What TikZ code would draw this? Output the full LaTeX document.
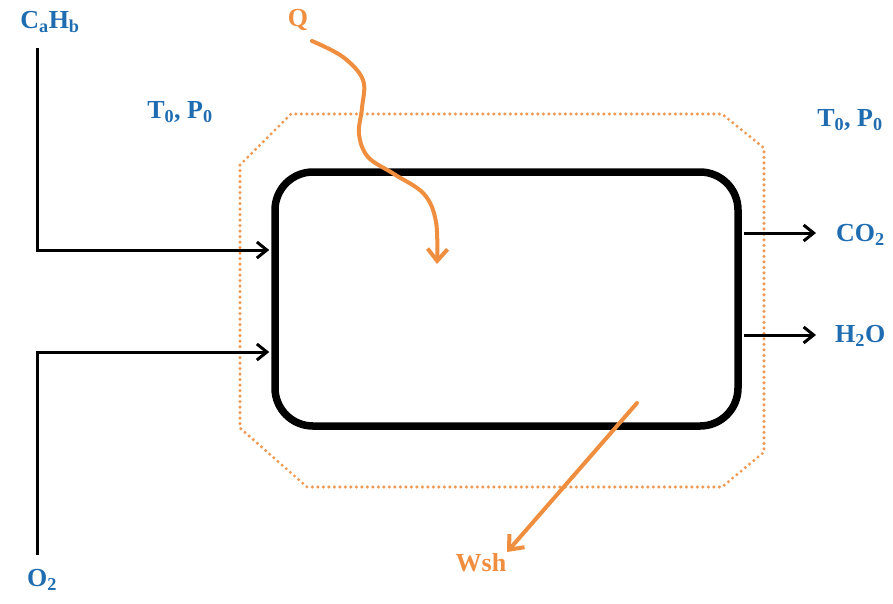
\documentclass[tikz,border=0pt]{standalone}
\usepackage{fontspec}
\setmainfont{Liberation Serif}
\usetikzlibrary{arrows.meta,calc}
\definecolor{chemblue}{HTML}{1F6DB0}
\definecolor{heatorange}{HTML}{EF8E3F}
\definecolor{bndorange}{HTML}{EE9A55}
\tikzset{
  lbl/.style={font=\fontsize{26}{30}\selectfont\bfseries, text=chemblue, inner sep=0pt},
  olbl/.style={font=\fontsize{26}{30}\selectfont\bfseries, text=heatorange, inner sep=0pt},
  stream/.style={line width=3pt, line join=miter,
    -{Straight Barb[length=10pt,width=16pt,line width=3pt]}},
  energy/.style={line width=4pt, draw=heatorange, line cap=round,
    -{Straight Barb[length=12pt,width=20pt,line width=4pt]}},
  boundary/.style={draw=bndorange, line width=3.4pt, line cap=round,
    dash pattern=on 0pt off 5.5pt},
  reactorbox/.style={draw, line width=7.5pt, rounded corners=38pt,
    minimum width=463pt, minimum height=254pt, inner sep=0pt}
}
\begin{document}
\begin{tikzpicture}[x=1pt,y=-1pt]
\useasboundingbox (0,0) rectangle (893,603);

% control volume boundary (dotted octagon)
\draw[boundary] (240,165) -- (291,114) -- (722,114) -- (764,148) -- (764,452)
  -- (722,487) -- (307,487) -- (240,428) -- cycle;

% reactor
\node[reactorbox] (reactor) at (506.5,299) {};

% labels
\node[lbl] (fuel) at (50,22) {C\textsubscript{a}H\textsubscript{b}};
\node[lbl] (oxy) at (42,580) {O\textsubscript{2}};
\node[lbl] (tpin) at (180,112) {T\textsubscript{0}, P\textsubscript{0}};
\node[lbl] (tpout) at (850,120) {T\textsubscript{0}, P\textsubscript{0}};
\node[lbl, anchor=west] (co2) at (836,235) {CO\textsubscript{2}};
\node[lbl, anchor=west] (h2o) at (835,336) {H\textsubscript{2}O};
\node[olbl] (heat) at (298,20) {Q};
\node[olbl] (work) at (481,563) {Wsh};

% stream end points
\coordinate (fueltop) at (37,48);
\coordinate (fuelbend) at (37,250);
\coordinate (oxybot) at (37,555);
\coordinate (oxybend) at (37,352);
\coordinate (co2end) at (816,233);
\coordinate (h2oend) at (816,335);

% feed streams
\draw[stream] (fueltop) -- (fuelbend) -- ($(fuelbend -| reactor.west)+(-2,0)$);
\draw[stream] (oxybot) -- (oxybend) -- ($(oxybend -| reactor.west)+(-2,0)$);

% product streams
\draw[stream] ($(co2end -| reactor.east)+(2,0)$) -- (co2end);
\draw[stream] ($(h2oend -| reactor.east)+(2,0)$) -- (h2oend);

% heat input
\coordinate (qstart) at (312,41);
\coordinate (qend) at (437,264);
\draw[energy] plot[smooth, tension=0.6] coordinates {
  (qstart) (343,57) (363,80) (362,108) (359,134) (368,157) (394,174)
  (424,194) (436,222) (qend)};

% shaft work output
\coordinate (wstart) at (637,403);
\coordinate (wend) at (507,552);
\draw[energy] (wstart) -- (wend);
\end{tikzpicture}
\end{document}
